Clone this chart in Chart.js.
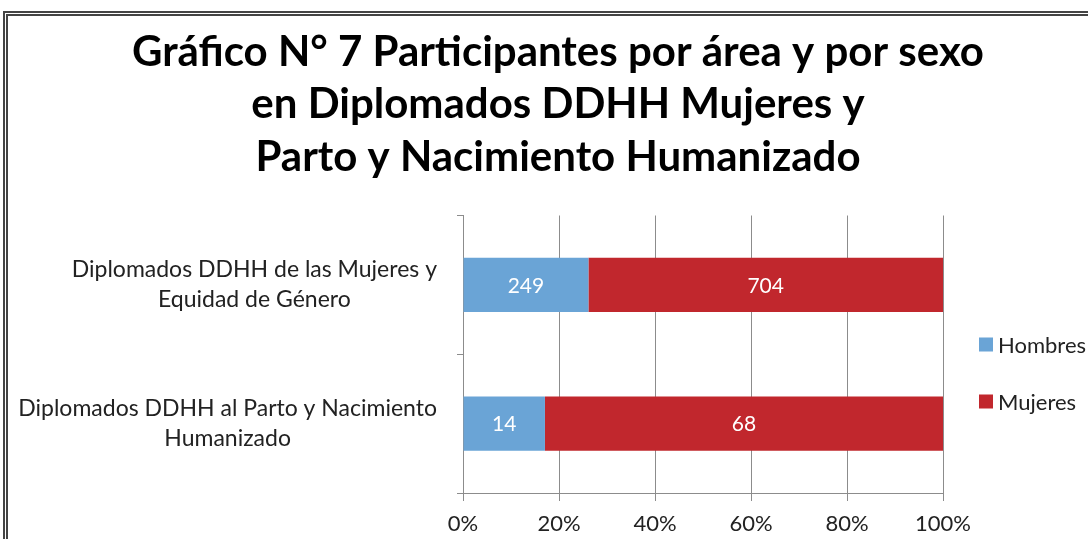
<!DOCTYPE html>
<html>
<head>
<meta charset="utf-8">
<script src="https://cdn.jsdelivr.net/npm/chart.js@4/dist/chart.umd.min.js"></script>
<style>
    body { margin: 0; background: #fff; overflow: hidden; }
    #frame {
        position: absolute; left: 3px; top: 11px;
        width: 1100px; height: 540px;
        border: 5px double #444;
        overflow: hidden;
    }
    canvas { display: block; }
</style>
</head>
<body>
<div id="frame"><canvas id="chart" width="1100" height="540"></canvas></div>
<script>
const categories = [
    ['Diplomados DDHH de las Mujeres y', 'Equidad de Género'],
    ['Diplomados DDHH al Parto y Nacimiento', 'Humanizado']
];
const hombres = [249, 14];
const mujeres = [704, 68];
const xTicks = [0, 20, 40, 60, 80, 100];
const seriesNames = ['Hombres', 'Mujeres'];

const blue = '#6aa4d6';
const red = '#c1272d';

// 100% stacked: each bar is the share of its row total
const totals = hombres.map((h, i) => h + mujeres[i]);
const pct = arr => arr.map((v, i) => v / totals[i] * 100);

// category labels, each line centred on its own block, right edge fixed
const categoryLabels = {
    id: 'categoryLabels',
    afterDraw(chart) {
        const ctx = chart.ctx;
        const y = chart.scales.y;
        ctx.save();
        ctx.font = '23px Lato';
        ctx.fillStyle = '#222';
        ctx.textAlign = 'center';
        ctx.textBaseline = 'middle';
        const rightEdge = chart.chartArea.left - 26;
        const lineH = 30;
        categories.forEach((lines, i) => {
            const w = Math.max(...lines.map(l => ctx.measureText(l).width));
            const cx = rightEdge - w / 2;
            const cy = y.getPixelForValue(i);
            lines.forEach((l, k) => {
                ctx.fillText(l, cx, cy + (k - (lines.length - 1) / 2) * lineH);
            });
        });
        ctx.restore();
    }
};

// raw counts written in the middle of each segment
const countLabels = {
    id: 'countLabels',
    afterDatasetsDraw(chart) {
        const ctx = chart.ctx;
        ctx.save();
        ctx.font = '21px Lato';
        ctx.fillStyle = '#fff';
        ctx.textAlign = 'center';
        ctx.textBaseline = 'middle';
        chart.data.datasets.forEach((ds, di) => {
            chart.getDatasetMeta(di).data.forEach((bar, i) => {
                ctx.fillText(String(ds.counts[i]), (bar.x + bar.base) / 2, bar.y + 1);
            });
        });
        ctx.restore();
    }
};

const sideLegend = {
    id: 'sideLegend',
    afterDraw(chart) {
        const ctx = chart.ctx;
        const a = chart.chartArea;
        ctx.save();
        ctx.font = '22px Lato';
        ctx.textBaseline = 'middle';
        chart.data.datasets.forEach((ds, i) => {
            const x = a.right + 36;
            const yc = a.top + 129 + i * 57;
            ctx.fillStyle = ds.backgroundColor;
            ctx.fillRect(x, yc - 7, 14, 14);
            ctx.fillStyle = '#222';
            ctx.fillText(ds.label, x + 19, yc + 1);
        });
        ctx.restore();
    }
};

const ctx = document.getElementById('chart').getContext('2d');
new Chart(ctx, {
    type: 'bar',
    data: {
        labels: categories,
        datasets: [{
            label: seriesNames[0],
            data: pct(hombres),
            counts: hombres,
            backgroundColor: blue
        }, {
            label: seriesNames[1],
            data: pct(mujeres),
            counts: mujeres,
            backgroundColor: red
        }]
    },
    options: {
        responsive: false,
        animation: false,
        indexAxis: 'y',
        layout: { padding: 0 },
        datasets: { bar: { categoryPercentage: 0.39, barPercentage: 1 } },
        plugins: {
            legend: { display: false },
            tooltip: { enabled: false },
            title: {
                display: true,
                text: [
                    'Gráfico N° 7 Participantes por área y por sexo',
                    'en Diplomados DDHH Mujeres y',
                    'Parto y Nacimiento Humanizado'
                ],
                color: '#000',
                font: { family: 'Lato', size: 42, weight: 'bold', lineHeight: 1.25 },
                padding: { top: 10, bottom: 32 }
            }
        },
        scales: {
            x: {
                stacked: true,
                min: 0,
                max: 100,
                afterFit(scale) { scale.height = 63; },
                afterBuildTicks(scale) { scale.ticks = xTicks.map(v => ({ value: v })); },
                ticks: {
                    callback: v => v + '%',
                    color: '#222',
                    font: { family: 'Lato', size: 22 },
                    padding: 10
                },
                grid: { color: '#8c8c8c', tickLength: 8, tickColor: '#8c8c8c' },
                border: { color: '#8c8c8c' }
            },
            y: {
                stacked: true,
                afterFit(scale) { scale.width = 455; },
                ticks: { display: false },
                grid: {
                    offset: true,
                    drawOnChartArea: false,
                    tickLength: 6,
                    color: '#8c8c8c'
                },
                border: { color: '#8c8c8c' }
            },
            // empty box on the right that leaves room for the legend
            legendSpace: {
                type: 'linear',
                axis: 'y',
                position: 'right',
                afterFit(scale) { scale.width = 165; },
                ticks: { display: false },
                grid: { display: false },
                border: { display: false }
            }
        }
    },
    plugins: [categoryLabels, countLabels, sideLegend]
});
</script>
</body>
</html>
